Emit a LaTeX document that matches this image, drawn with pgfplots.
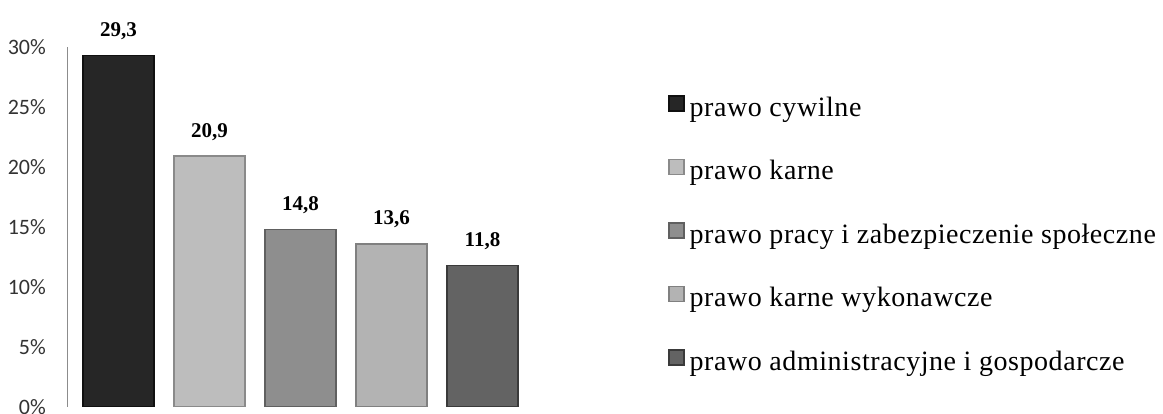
\documentclass[border=0pt]{standalone}
\usepackage{pgfplots}
\pgfplotsset{compat=1.18}
\usepackage{fontspec}
\setmainfont{Liberation Serif}
\newfontfamily\carlito{Carlito}
\newfontfamily\legfont[LetterSpace=2]{Liberation Serif}

\definecolor{cA}{HTML}{262626}
\definecolor{cAd}{HTML}{101010}
\definecolor{cB}{HTML}{BDBDBD}
\definecolor{cBd}{HTML}{8A8A8A}
\definecolor{cC}{HTML}{8E8E8E}
\definecolor{cCd}{HTML}{606060}
\definecolor{cD}{HTML}{B3B3B3}
\definecolor{cDd}{HTML}{808080}
\definecolor{cE}{HTML}{636363}
\definecolor{cEd}{HTML}{3A3A3A}

\begin{document}
\begin{tikzpicture}
\begin{axis}[
    at={(68pt,7pt)}, anchor=south west,
    scale only axis,
    width=460pt, height=360pt,
    xmin=-0.555, xmax=4.5,
    ymin=0, ymax=30,
    axis x line=none,
    axis y line*=left,
    y axis line style={draw=black!45, line width=1pt},
    ytick={0,5,...,30},
    major tick length=0pt,
    /pgf/number format/assume math mode=true,
    yticklabel={\pgfmathprintnumber{\tick}\%},
    yticklabel style={font=\carlito\fontsize{22}{22}\selectfont, text=black!80,
        inner sep=0pt, xshift=-22pt},
    ybar,
    bar width=71pt,
    every axis plot/.append style={bar shift=0pt, line width=1.5pt},
    nodes near coords={\pgfmathprintnumber[fixed,fixed zerofill,precision=1,use comma]{\pgfplotspointmeta}},
    every node near coord/.append style={font=\bfseries\fontsize{21}{21}\selectfont,
        text=black, anchor=base, yshift=19pt},
    title={RPO},
    title style={at={(axis description cs:1.087,1.1222)}, anchor=base,
        font=\bfseries\fontsize{30}{30}\selectfont},
    legend image code/.code={\draw[#1] (0pt,-1pt) rectangle (15pt,14pt);},
    legend cell align=left,
    legend style={draw=none, fill=none, inner sep=0pt,
        at={(1,1)}, anchor=north west, xshift=140pt, yshift=-48pt,
        font=\legfont\fontsize{28}{28}\selectfont,
        row sep=36pt, column sep=5pt,
        nodes={inner sep=0pt, text height=19pt, text depth=6.5pt}},
]
\addplot[fill=cA, draw=cAd] coordinates {(0,29.3)};
\addlegendentry{prawo cywilne}
\addplot[fill=cB, draw=cBd] coordinates {(1,20.9)};
\addlegendentry{prawo karne}
\addplot[fill=cC, draw=cCd] coordinates {(2,14.8)};
\addlegendentry{prawo pracy i zabezpieczenie społeczne}
\addplot[fill=cD, draw=cDd] coordinates {(3,13.6)};
\addlegendentry{prawo karne wykonawcze}
\addplot[fill=cE, draw=cEd] coordinates {(4,11.8)};
\addlegendentry{prawo administracyjne i gospodarcze}
\end{axis}
\pgfresetboundingbox
\useasboundingbox (0,0) rectangle (1163pt,414pt);
\end{tikzpicture}
\end{document}
